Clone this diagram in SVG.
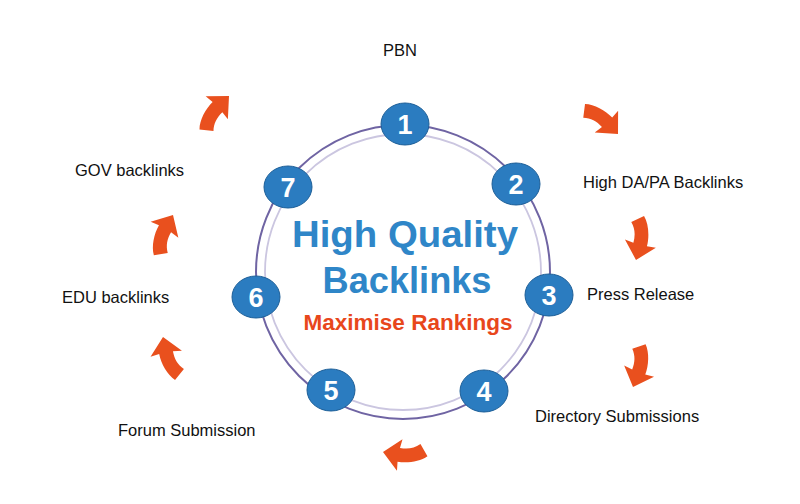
<svg xmlns="http://www.w3.org/2000/svg" width="800" height="504" viewBox="0 0 800 504">
<style>
.lbl{font-family:"Liberation Sans",Arial,sans-serif;font-size:16.5px;fill:#111}
.node ellipse{fill:#2b7cc0;stroke:#1d5f98;stroke-width:1}
.node text{font-family:"Liberation Sans",Arial,sans-serif;font-weight:bold;font-size:27px;fill:#fff;text-anchor:middle}
.arr{fill:#e9501e}
.title{font-family:"Liberation Sans",Arial,sans-serif;font-weight:bold;fill:#2f86c8;text-anchor:middle}
.sub{font-family:"Liberation Sans",Arial,sans-serif;font-weight:bold;fill:#e8471c;text-anchor:middle;font-size:22px}
</style>
<defs>
<path id="carrow" d="M0,0 L-17,-16 L-16,-7 C-26,-7 -38,-3 -44.5,3.6 L-35.5,14.4 C-30,9 -24,7 -16,7 L-17,16 Z"/>
</defs>
<rect width="800" height="504" fill="#fff"/>
<g id="ring">
<circle cx="403" cy="272" r="147" fill="none" stroke="#6f64a3" stroke-width="2"/>
<circle cx="403" cy="272" r="138" fill="none" stroke="#cbc6e0" stroke-width="1.8"/>
</g>
<g id="connectors">
<use href="#carrow" class="arr" transform="translate(229,96) rotate(-44)"/>
<use href="#carrow" class="arr" transform="translate(618,134) rotate(47)"/>
<use href="#carrow" class="arr" transform="translate(636,260) rotate(105)"/>
<use href="#carrow" class="arr" transform="translate(633,387) rotate(111)"/>
<use href="#carrow" class="arr" transform="translate(383,452) rotate(190)"/>
<use href="#carrow" class="arr" transform="translate(163,337) rotate(259)"/>
<use href="#carrow" class="arr" transform="translate(173,215) rotate(-60)"/>
</g>
<g id="center">
<text class="title" x="405" y="247" font-size="37" textLength="226" lengthAdjust="spacingAndGlyphs">High Quality</text>
<text class="title" x="407" y="293" font-size="37" textLength="169" lengthAdjust="spacingAndGlyphs">Backlinks</text>
<text class="sub" x="408" y="330" textLength="209" lengthAdjust="spacingAndGlyphs">Maximise Rankings</text>
</g>
<g id="n1" class="node"><ellipse cx="405" cy="124" rx="24" ry="21"/><text x="405" y="134">1</text></g>
<g id="n2" class="node"><ellipse cx="516" cy="184" rx="24" ry="21"/><text x="516" y="194">2</text></g>
<g id="n3" class="node"><ellipse cx="549" cy="295" rx="24" ry="21"/><text x="549" y="305">3</text></g>
<g id="n4" class="node"><ellipse cx="484" cy="391" rx="24" ry="21"/><text x="484" y="401">4</text></g>
<g id="n5" class="node"><ellipse cx="331" cy="390" rx="24" ry="21"/><text x="331" y="400">5</text></g>
<g id="n6" class="node"><ellipse cx="256" cy="297" rx="24" ry="21"/><text x="256" y="307">6</text></g>
<g id="n7" class="node"><ellipse cx="288" cy="187" rx="24" ry="21"/><text x="288" y="197">7</text></g>
<g id="labels">
<text class="lbl" x="400" y="56" text-anchor="middle">PBN</text>
<text class="lbl" x="583" y="188">High DA/PA Backlinks</text>
<text class="lbl" x="587" y="300">Press Release</text>
<text class="lbl" x="535" y="422">Directory Submissions</text>
<text class="lbl" x="118" y="436">Forum Submission</text>
<text class="lbl" x="62" y="303">EDU backlinks</text>
<text class="lbl" x="75" y="176">GOV backlinks</text>
</g>
</svg>
